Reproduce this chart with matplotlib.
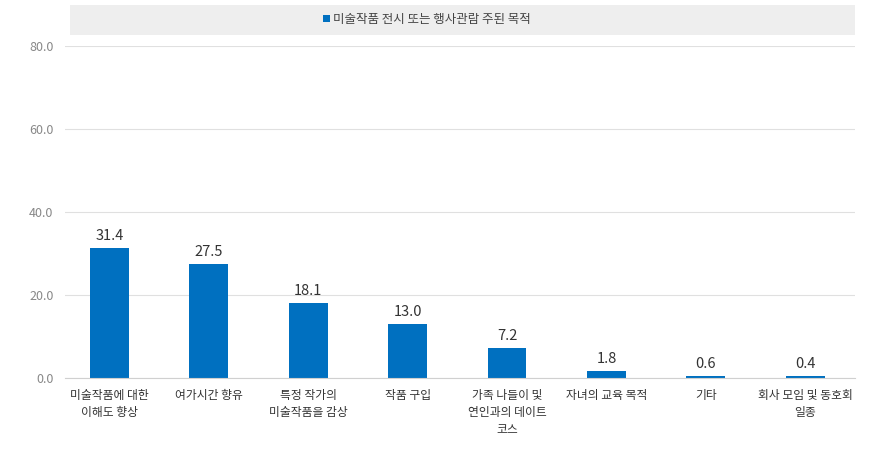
import matplotlib
matplotlib.use("Agg")
import matplotlib.pyplot as plt
from matplotlib.patches import Rectangle

plt.rcParams["font.family"] = ["Noto Sans CJK JP", "Noto Sans CJK KR", "Noto Sans CJK SC", "DejaVu Sans"]

categories = ["미술작품에 대한\n이해도 향상", "여가시간 향유", "특정 작가의\n미술작품을 감상", "작품 구입",
              "가족 나들이 및\n연인과의 데이트\n코스", "자녀의 교육 목적", "기타", "회사 모임 및 동호회\n일종"]
values = [31.4, 27.5, 18.1, 13.0, 7.2, 1.8, 0.6, 0.4]
yticks = [0, 20, 40, 60, 80]
series_name = "미술작품 전시 또는 행사관람 주된 목적"

color = "#0070C0"
fig = plt.figure(figsize=(8.85, 4.5), dpi=100)
ax = fig.add_axes([0.073, 0.16, 0.893, 0.738])
x = list(range(len(categories)))
ax.bar(x, values, width=0.39, color=color)
for xi, v in zip(x, values):
    ax.text(xi, v + 1.2, f"{v:.1f}", ha="center", va="bottom", fontsize=10.5, color="#333333")
ax.set_xlim(-0.45, len(categories) - 0.5)
ax.set_ylim(0, 80)
ax.set_yticks(yticks)
ax.set_yticklabels([f"{t:.1f}" for t in yticks], color="#888888", fontsize=9)
ax.set_xticks(x)
ax.set_xticklabels(categories, fontsize=8.5, color="#333333", linespacing=1.4)
ax.tick_params(length=0, pad=8)
ax.grid(axis="y", color="#e0e0e0", linewidth=0.8)
ax.set_axisbelow(True)
for s in ["top", "right", "left"]:
    ax.spines[s].set_visible(False)
ax.spines["bottom"].set_color("#d0d0d0")

fig.patches.append(Rectangle((70/885, 1-35/450), 785/885, 30/450, transform=fig.transFigure,
                             facecolor="#eeeeee", edgecolor="none", zorder=0))
fig.patches.append(Rectangle((323/885, 1-22/450), 7/885, 7/450, transform=fig.transFigure,
                             facecolor=color, edgecolor="none"))
fig.text(333/885, 1-19/450, series_name, fontsize=9, color="#444444", va="center", ha="left")
fig.savefig("out.png", dpi=100)
